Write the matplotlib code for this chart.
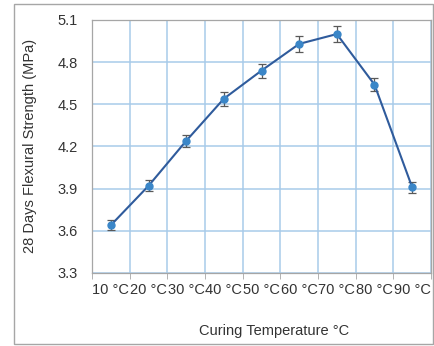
import matplotlib.pyplot as plt
from matplotlib.patches import Rectangle

temps = ["10 °C", "20 °C", "30 °C", "40 °C", "50 °C", "60 °C", "70 °C", "80 °C", "90 °C"]
strength = [3.64, 3.92, 4.24, 4.54, 4.74, 4.93, 5.00, 4.64, 3.91]
err = [0.035, 0.04, 0.045, 0.05, 0.05, 0.055, 0.055, 0.047, 0.04]

LINE = "#2F5B9C"
MARK = "#3A86C8"
GRID = "#A8CBEA"
SPINE = "#A6A6A6"
TEXT = "#333333"

plt.rcParams["font.family"] = ["Liberation Sans", "DejaVu Sans"]

fig = plt.figure(figsize=(4.34, 3.46), dpi=100)
W, H = 434, 346
ax = fig.add_axes([92 / W, 1 - 273 / H, (431 - 92) / W, (273 - 20) / H])

xs = list(range(len(temps)))
ax.errorbar(xs, strength, yerr=err, fmt="none", ecolor="#595959",
            elinewidth=0.9, capsize=3, capthick=0.9, zorder=3)
ax.plot(xs, strength, color=LINE, lw=1.5, zorder=4)
ax.plot(xs, strength, "o", color=MARK, ms=5, zorder=5)

ax.set_xlim(-0.5, len(temps) - 0.5)
ax.set_ylim(3.3, 5.1)
ax.set_yticks([3.3, 3.6, 3.9, 4.2, 4.5, 4.8, 5.1])
ax.set_xticks(xs)
ax.set_xticklabels(temps)
ax.set_xticks([i - 0.5 for i in range(len(temps) + 1)], minor=True)
ax.tick_params(axis="x", which="major", length=0, labelsize=10.5, pad=7)
ax.tick_params(axis="x", which="minor", length=4, color=SPINE)
ax.tick_params(axis="y", length=0, labelsize=10.5, pad=10)
for lab in ax.get_xticklabels() + ax.get_yticklabels():
    lab.set_color(TEXT)

ax.grid(True, which="minor", axis="x", color=GRID, lw=1.1)
ax.grid(True, which="major", axis="y", color=GRID, lw=1.1)
ax.set_axisbelow(True)
for s in ax.spines.values():
    s.set_color(SPINE)
    s.set_linewidth(0.9)

fig.text(30 / W, 1 - 146 / H, "28 Days Flexural Strength (MPa)", fontsize=10.5,
         color=TEXT, rotation=90, ha="center", va="center")
fig.text(274 / W, 1 - 331 / H, "Curing Temperature °C", fontsize=10.5,
         color=TEXT, ha="center", va="center")

fig.patches.append(Rectangle((14 / W, 1 - 344 / H), (433 - 14) / W, (344 - 4) / H,
                             transform=fig.transFigure, fill=False,
                             edgecolor="#A6A6A6", lw=1.0))

fig.savefig("out.png", dpi=100, facecolor="white")
